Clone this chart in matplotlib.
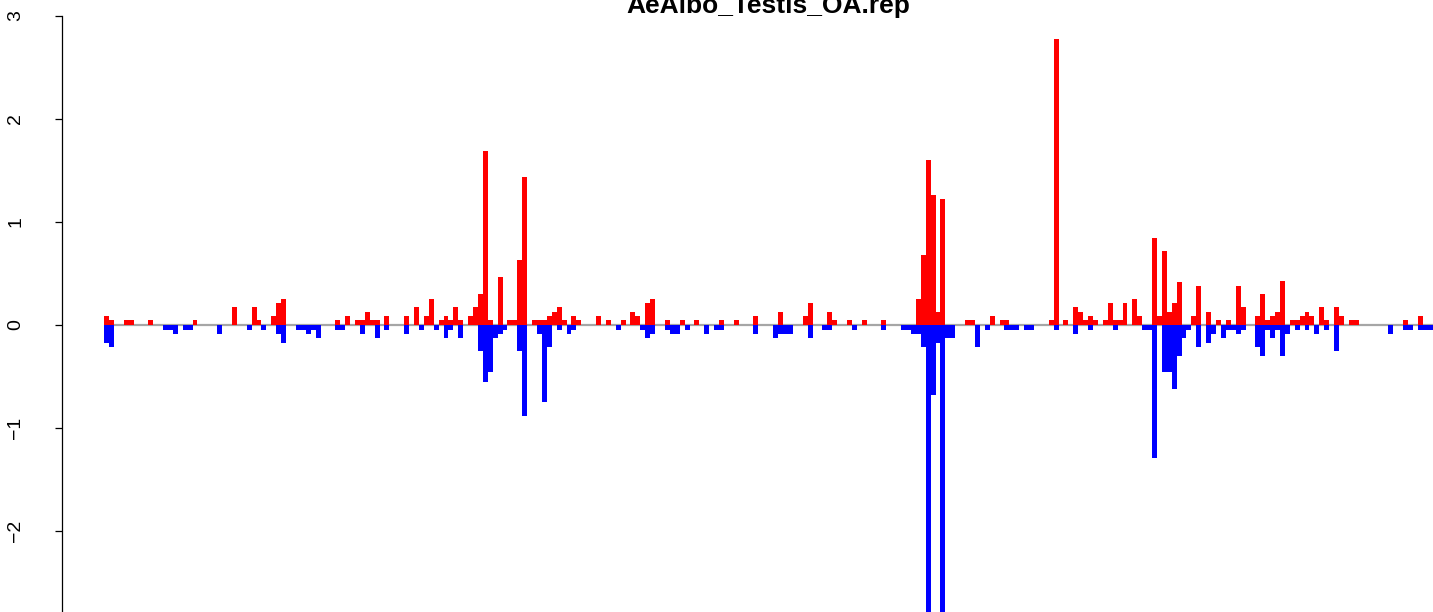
"""
Mirrored bar profile for AeAlbo_Testis_OA.rep: positive signal in red,
negative signal in blue, one bar per bin.
"""

import numpy as np
import matplotlib
matplotlib.use("Agg")
import matplotlib.pyplot as plt

plt.rcParams["font.family"] = ["Liberation Sans", "DejaVu Sans"]

TITLE = "AeAlbo_Testis_OA.rep"
N_BINS = 270

# positive (red) bins: index -> value
red_idx = [0, 1, 4, 5, 9, 18, 26, 30, 31, 34, 35, 36, 47, 49, 51, 52, 53, 54,
           55, 57, 61, 63, 65, 66, 68, 69, 70, 71, 72, 74, 75, 76, 77, 78, 80,
           82, 83, 84, 85, 87, 88, 89, 90, 91, 92, 93, 95, 96, 100, 102, 105,
           107, 108, 110, 111, 114, 117, 120, 125, 128, 132, 137, 142, 143,
           147, 148, 151, 154, 158, 165, 166, 167, 168, 169, 170, 175, 176,
           180, 182, 183, 192, 193, 195, 197, 198, 199, 200, 201, 203, 204,
           205, 206, 207, 209, 210, 213, 214, 215, 216, 217, 218, 221, 222,
           224, 226, 228, 230, 231, 234, 235, 236, 237, 238, 239, 241, 242,
           243, 244, 245, 247, 248, 250, 251, 253, 254, 264, 267]
red_val = [0.087, 0.049, 0.045, 0.045, 0.045, 0.045, 0.175, 0.175, 0.049,
           0.087, 0.214, 0.252, 0.049, 0.087, 0.049, 0.049, 0.126, 0.049,
           0.049, 0.087, 0.087, 0.175, 0.087, 0.252, 0.049, 0.087, 0.049,
           0.175, 0.049, 0.087, 0.175, 0.30, 1.69, 0.049, 0.47, 0.049, 0.049,
           0.63, 1.44, 0.049, 0.049, 0.049, 0.087, 0.126, 0.175, 0.049, 0.087,
           0.049, 0.087, 0.049, 0.049, 0.126, 0.087, 0.214, 0.252, 0.049,
           0.049, 0.049, 0.049, 0.049, 0.087, 0.126, 0.087, 0.214, 0.126,
           0.049, 0.049, 0.049, 0.049, 0.25, 0.68, 1.60, 1.26, 0.126, 1.22,
           0.049, 0.049, 0.087, 0.049, 0.049, 0.049, 2.78, 0.049, 0.175,
           0.126, 0.049, 0.087, 0.049, 0.049, 0.214, 0.049, 0.049, 0.214,
           0.252, 0.087, 0.84, 0.087, 0.72, 0.126, 0.214, 0.42, 0.087, 0.38,
           0.126, 0.049, 0.049, 0.38, 0.175, 0.087, 0.30, 0.049, 0.087, 0.126,
           0.43, 0.049, 0.049, 0.087, 0.126, 0.087, 0.175, 0.049, 0.175,
           0.087, 0.049, 0.049, 0.049, 0.087]

# negative (blue) bins: index -> value
blue_idx = [0, 1, 12, 13, 14, 16, 17, 23, 29, 32, 35, 36, 39, 40, 41, 42, 43,
            47, 48, 52, 55, 57, 61, 64, 67, 69, 70, 72, 76, 77, 78, 79, 80, 81,
            84, 85, 88, 89, 90, 92, 94, 95, 104, 109, 110, 111, 114, 115, 116,
            118, 122, 124, 125, 132, 136, 137, 138, 139, 143, 146, 147, 152,
            158, 162, 163, 164, 165, 166, 167, 168, 169, 170, 171, 172, 177,
            179, 183, 184, 185, 187, 188, 193, 197, 200, 205, 211, 212, 213,
            215, 216, 217, 218, 219, 220, 222, 224, 225, 227, 228, 229, 230,
            231, 234, 235, 236, 237, 238, 239, 240, 242, 244, 246, 248, 250,
            261, 264, 265, 267, 268, 269]
blue_val = [-0.17, -0.21, -0.049, -0.049, -0.087, -0.049, -0.049, -0.087,
            -0.049, -0.049, -0.087, -0.17, -0.049, -0.049, -0.087, -0.049,
            -0.126, -0.049, -0.049, -0.087, -0.126, -0.049, -0.087, -0.049,
            -0.049, -0.126, -0.049, -0.126, -0.25, -0.55, -0.46, -0.126,
            -0.087, -0.049, -0.25, -0.88, -0.087, -0.75, -0.21, -0.049,
            -0.087, -0.049, -0.049, -0.049, -0.126, -0.087, -0.049, -0.087,
            -0.087, -0.049, -0.087, -0.049, -0.049, -0.087, -0.126, -0.087,
            -0.087, -0.087, -0.126, -0.049, -0.049, -0.049, -0.049, -0.049,
            -0.049, -0.087, -0.087, -0.21, -3.0, -0.68, -0.17, -3.0, -0.126,
            -0.126, -0.21, -0.049, -0.049, -0.049, -0.049, -0.049, -0.049,
            -0.049, -0.087, -0.049, -0.049, -0.049, -0.049, -1.29, -0.46,
            -0.46, -0.62, -0.30, -0.126, -0.049, -0.21, -0.17, -0.087, -0.126,
            -0.049, -0.049, -0.087, -0.049, -0.21, -0.30, -0.049, -0.126,
            -0.049, -0.30, -0.087, -0.049, -0.049, -0.087, -0.049, -0.25,
            -0.087, -0.049, -0.049, -0.049, -0.049, -0.049]

y_ticks = [-2, -1, 0, 1, 2, 3]

red = np.zeros(N_BINS)
red[red_idx] = red_val
blue = np.zeros(N_BINS)
blue[blue_idx] = blue_val
x = np.arange(N_BINS)

W, H = 1433, 612
fig = plt.figure(figsize=(W / 100, H / 100), dpi=100)
ax = fig.add_axes([62 / W, 0, 1 - 62 / W, 1])

# zero line under the bars
ax.hlines(0, 0, N_BINS, color="#A6A6A6", linewidth=1.6, zorder=1)
ax.bar(x, red, width=1, align="edge", color="#FF0000", linewidth=0,
       antialiased=False, zorder=2)
ax.bar(x, blue, width=1, align="edge", color="#0000FF", linewidth=0,
       antialiased=False, zorder=2)

for side in ["top", "right", "bottom"]:
    ax.spines[side].set_visible(False)
ax.spines["left"].set_bounds(-3, 3)
ax.spines["left"].set_linewidth(0.9)
ax.set_xticks([])
ax.set_yticks(y_ticks)
ax.set_yticklabels([str(t).replace("-", "\u2212") for t in y_ticks],
                   rotation=90, va="center", fontsize=14)
ax.tick_params(axis="y", length=5, width=0.9, pad=22)

# limits last so the ticks do not widen the view
ax.set_xlim(-(104 - 62) / 4.92, N_BINS + 0.1)
ax.set_ylim((325 - H) / 103, 325 / 103)

fig.text(768 / W, 1 - 13 / H, TITLE, ha="center", va="baseline",
         fontsize=19, fontweight="bold")

fig.savefig("out.png", dpi=100)
